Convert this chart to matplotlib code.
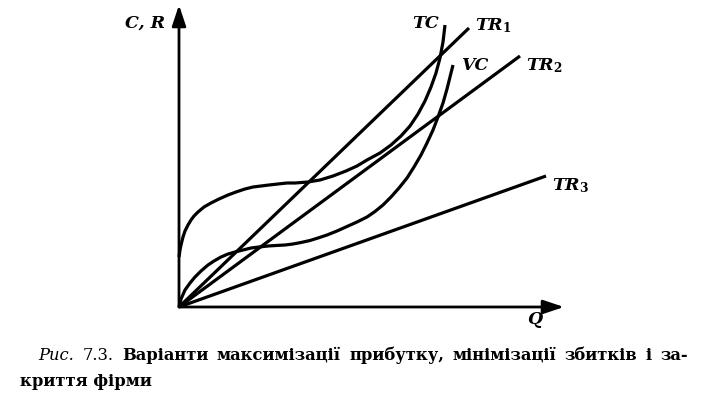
import numpy as np
import matplotlib.pyplot as plt

plt.rcParams['mathtext.fontset'] = 'custom'
plt.rcParams['mathtext.it'] = 'DejaVu Serif:italic:bold'
plt.rcParams['mathtext.rm'] = 'DejaVu Serif:bold'
plt.rcParams['mathtext.bf'] = 'DejaVu Serif:bold'

# curves (Q, C)
tc_q = [0, 1, 2, 4, 6, 9, 12, 15, 19, 25, 32, 40, 49, 57, 66, 74, 82, 90, 99,
        108, 116, 129, 141, 154, 167, 178, 188, 201, 212, 222, 231, 239, 246,
        252, 257, 261, 264, 266]
tc_c = [50, 57, 62, 70, 76, 82, 87, 91, 95, 100, 104, 108, 112, 115, 118,
        120, 121, 122, 123, 124, 124, 125, 127, 131, 136, 141, 147, 154, 162,
        171, 181, 193, 206, 220, 234, 249, 265, 282]

vc_q = [0, 2, 6, 11, 16, 22, 29, 35, 42, 49, 56, 64, 72, 80, 89, 97, 106, 114,
        122, 131, 139, 148, 158, 168, 178, 188, 196, 204, 212, 220, 228, 235,
        242, 248, 254, 259, 264, 268, 271, 274]
vc_c = [0, 8, 17, 24, 30, 36, 42, 46, 50, 53, 55, 57, 59, 60, 61, 61.5, 62,
        63, 64.5, 66.5, 69, 72, 76, 80.5, 85, 90, 95.5, 102, 110, 119, 129, 140,
        152, 164, 177, 190, 204, 218, 230, 242]

# revenue lines: end points
tr_q = [290, 341, 367]
tr_r = [279, 251, 131]
tr_labels = [r'$TR_\mathrm{1}$', r'$TR_\mathrm{2}$', r'$TR_\mathrm{3}$']

caption_words = ['Рис.', '7.3.', 'Варіанти', 'максимізації', 'прибутку,',
                 'мінімізації', 'збитків', 'і', 'за-']
caption_line2 = 'криття фірми'

fig = plt.figure(figsize=(7.1, 3.94), dpi=100)
ax = fig.add_axes([0, 0, 1, 1])
ax.set_xlim(-179, 531)
ax.set_ylim(-87, 307)
ax.axis('off')

lw = 2.3
ax.plot(tc_q, tc_c, color='k', lw=lw, solid_capstyle='butt', solid_joinstyle='round')
ax.plot(vc_q, vc_c, color='k', lw=lw, solid_capstyle='butt', solid_joinstyle='round')
for q, r in zip(tr_q, tr_r):
    ax.plot([0, q], [0, r], color='k', lw=lw, solid_capstyle='butt')

arrow = dict(arrowstyle='-|>,head_length=0.9,head_width=0.3', mutation_scale=14,
             color='k', lw=2, shrinkA=0, shrinkB=0)
ax.annotate('', xy=(0, 302), xytext=(0, 0), arrowprops=arrow)
ax.annotate('', xy=(385, 0), xytext=(0, 0), arrowprops=arrow)

lab = dict(fontsize=12.5, family='DejaVu Serif', weight='bold', style='italic', color='k')
ax.text(-34, 284, 'C, R', ha='center', va='center', **lab)
ax.text(356, -12, 'Q', ha='center', va='center', **lab)
ax.text(247, 284, 'TC', ha='center', va='center', **lab)
ax.text(296, 242, 'VC', ha='center', va='center', **lab)
offs = [2, -10, -10]
for q, r, s, o in zip(tr_q, tr_r, tr_labels, offs):
    ax.text(q + 6, r + o, s, ha='left', va='center', fontsize=12.5)

# caption, first line justified between x=38 and x=688 px
cap = dict(fontsize=11.8, family='DejaVu Serif', color='k', va='baseline')
renderer = fig.canvas.get_renderer()
y1 = 1 - 360 / 394
texts = []
for i, w in enumerate(caption_words):
    if i == 0:
        t = fig.text(0, y1, w, style='italic', **cap)
    elif i == 1:
        t = fig.text(0, y1, w, **cap)
    else:
        t = fig.text(0, y1, w, weight='bold', **cap)
    texts.append(t)
widths = [t.get_window_extent(renderer).width for t in texts]
left, right = 38, 688
gap = (right - left - sum(widths)) / (len(texts) - 1)
x = left
for t, w in zip(texts, widths):
    t.set_x(x / 710)
    x += w + gap
fig.text(20 / 710, 1 - 386 / 394, caption_line2, weight='bold', **cap)

fig.savefig('out.png', dpi=100)
